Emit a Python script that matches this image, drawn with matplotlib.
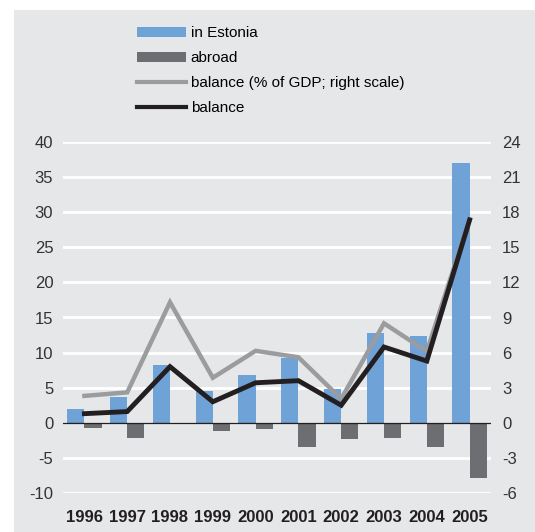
import matplotlib
matplotlib.use("Agg")
import matplotlib.pyplot as plt
import numpy as np
from matplotlib.patches import Rectangle, Patch
from matplotlib.lines import Line2D

years = ["1996", "1997", "1998", "1999", "2000", "2001", "2002", "2003", "2004", "2005"]
in_estonia = [2.0, 3.7, 8.3, 4.6, 6.8, 9.3, 4.8, 12.8, 12.3, 37.0]
abroad = [-0.7, -2.1, 0.0, -1.2, -0.9, -3.5, -2.3, -2.1, -3.5, -7.8]
balance = [1.3, 1.6, 8.0, 3.0, 5.7, 6.0, 2.5, 10.8, 8.8, 28.9]
balance_gdp = [2.3, 2.6, 10.3, 3.85, 6.15, 5.6, 2.05, 8.5, 6.1, 17.4]

BG = "#e6e7e9"
BLUE = "#6fa3d8"
DARK = "#6d6e71"
LIGHT = "#9b9c9e"
BLACK = "#231f20"

plt.rcParams["font.family"] = ["Liberation Sans", "DejaVu Sans"]
plt.rcParams["axes.unicode_minus"] = False
FS = 12

fig = plt.figure(figsize=(5.35, 5.32), dpi=100)
fig.patches.append(Rectangle((14 / 535, 0), 1, 1 - 10 / 532, transform=fig.transFigure,
                             facecolor=BG, edgecolor="none", zorder=-10))

ax = fig.add_axes([63 / 535, 1 - 493 / 532, 428 / 535, 351 / 532])
ax.set_facecolor("none")
x = np.arange(len(years))
w = 0.4
ax.bar(x - w / 2, in_estonia, width=w, color=BLUE, zorder=2)
ax.bar(x + w / 2, abroad, width=w, color=DARK, zorder=2)
ax.axhline(0, color=BLACK, lw=1.0, zorder=3)

ax.set_xlim(-0.5, len(years) - 0.5)
ax.set_ylim(-10, 40)
ax.set_yticks(range(-10, 41, 5))
ax.grid(axis="y", color="white", lw=2, zorder=1)
ax.set_axisbelow(True)
ax.set_xticks(x)
ax.set_xticklabels(years, fontweight="bold", fontsize=FS, color=BLACK)
ax.tick_params(axis="x", length=0, pad=12)
ax.tick_params(axis="y", length=0, pad=7, labelsize=FS, labelcolor="#333333")
for s in ax.spines.values():
    s.set_visible(False)

ax2 = ax.twinx()
ax2.set_ylim(-6, 24)
ax2.set_yticks(range(-6, 25, 3))
ax2.tick_params(axis="y", length=0, pad=8, labelsize=FS, labelcolor="#333333")
for s in ax2.spines.values():
    s.set_visible(False)
ax2.plot(x, balance_gdp, color=LIGHT, lw=3.2, zorder=4, solid_joinstyle="miter")

# black balance is on the left scale: rescale to right-axis units (ratio 0.6)
ax2.plot(x, np.array(balance) * 0.6, color=BLACK, lw=3.5, zorder=5,
         solid_joinstyle="miter")

handles = [
    Patch(facecolor=BLUE, edgecolor="none"),
    Patch(facecolor=DARK, edgecolor="none"),
    Line2D([], [], color=LIGHT, lw=3.0),
    Line2D([], [], color=BLACK, lw=3.0),
]
labels = ["in Estonia", "abroad", "balance (% of GDP; right scale)", "balance"]
fig.legend(handles, labels, loc="upper left", bbox_to_anchor=(131 / 535, 1 - 20 / 532),
           frameon=False, fontsize=11, handlelength=3.2, handleheight=0.6,
           handletextpad=0.3, labelspacing=0.72, borderaxespad=0)

fig.savefig("out.png", dpi=100)
